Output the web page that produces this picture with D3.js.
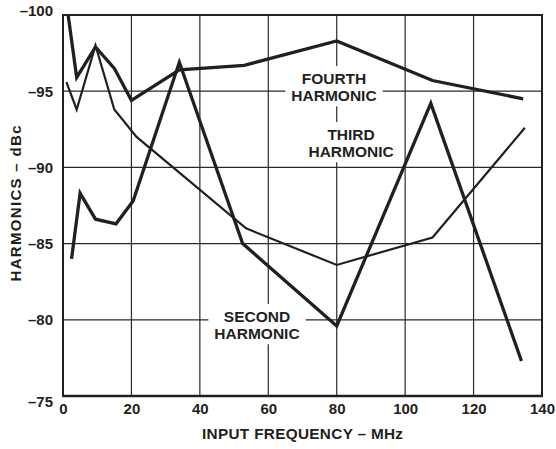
<!DOCTYPE html>
<html>
<head>
<meta charset="utf-8">
<script src="https://cdn.jsdelivr.net/npm/d3@7"></script>
<style>
  html, body { margin: 0; padding: 0; background: #fff; }
  svg { display: block; font-family: "Liberation Sans", Arial, sans-serif; font-weight: bold; }
</style>
</head>
<body>
<svg id="chart" width="556" height="449"></svg>
<script>
// ---- data ----
const xTicks = [0, 20, 40, 60, 80, 100, 120, 140];
const yTicks = [-100, -95, -90, -85, -80, -75];

const secondFreq = [2.5, 5, 9.5, 15.5, 20.5, 34, 52.5, 80, 107.5, 134];
const secondVals = [-84.0, -88.3, -86.6, -86.3, -87.8, -96.9, -85.0, -79.6, -94.2, -77.3];

const thirdFreq = [1, 4, 9.5, 15, 21.5, 53.5, 80, 108, 135];
const thirdVals = [-95.6, -93.8, -98.0, -93.8, -92.0, -86.0, -83.6, -85.4, -92.6];

const fourthFreq = [1.5, 4, 9.5, 15, 20, 34, 53, 80, 108, 134.5];
const fourthVals = [-100, -95.9, -97.9, -96.5, -94.4, -96.4, -96.7, -98.3, -95.7, -94.5];

const labelText = [["FOURTH", "HARMONIC"], ["THIRD", "HARMONIC"], ["SECOND", "HARMONIC"]];
const labelFreq = [79.2, 84.2, 56.7];
const labelVal = [-95.47, -91.8, -79.86];

// ---- layout ----
const svg = d3.select("#chart");
const L = 63, T = 15, W = 479, H = 381;
const ink = "#231f20";

const x = d3.scaleLinear().domain([0, 140]).range([L, L + W]);
const y = d3.scaleLinear().domain([-100, -75]).range([T, T + H]);

// grid
const g = svg.append("g");
g.selectAll("line.v").data(xTicks.slice(1, -1)).join("line")
  .attr("x1", d => x(d)).attr("x2", d => x(d))
  .attr("y1", T).attr("y2", T + H)
  .attr("stroke", "#2a2a2a").attr("stroke-width", 1.2);
g.selectAll("line.h").data(yTicks.slice(1, -1)).join("line")
  .attr("y1", d => y(d)).attr("y2", d => y(d))
  .attr("x1", L).attr("x2", L + W)
  .attr("stroke", "#2a2a2a").attr("stroke-width", 1.2);

// label boxes (white, break the grid)
const labelFont = 15.5;
const lg = svg.append("g");
labelText.forEach((lines, k) => {
  const cx = x(labelFreq[k]), cy = y(labelVal[k]);
  const tg = lg.append("g");
  const txt = tg.append("text")
    .attr("text-anchor", "middle")
    .attr("font-size", labelFont)
    .attr("fill", ink);
  lines.forEach((s, i) => {
    txt.append("tspan").attr("x", cx).attr("y", cy + i * 17.3).text(s);
  });
  const bb = txt.node().getBBox();
  tg.insert("rect", "text")
    .attr("x", bb.x - 6).attr("y", bb.y - 4)
    .attr("width", bb.width + 12).attr("height", bb.height + 6)
    .attr("fill", "#fff");
});

// axes frame
svg.append("rect")
  .attr("x", L).attr("y", T).attr("width", W).attr("height", H)
  .attr("fill", "none").attr("stroke", ink).attr("stroke-width", 2);
svg.append("line")
  .attr("x1", L - 1).attr("x2", L + W + 1).attr("y1", T + H).attr("y2", T + H)
  .attr("stroke", ink).attr("stroke-width", 2.6);

// tick labels via axes (no tick marks)
const fmt = d => (d < 0 ? "\u2013" + Math.abs(d) : String(d));
const yAxis = svg.append("g").attr("transform", `translate(${L},0)`)
  .call(d3.axisLeft(y).tickValues(yTicks).tickFormat(fmt).tickSize(0).tickPadding(10));
yAxis.select(".domain").remove();
yAxis.selectAll("text").attr("font-size", 15).attr("font-family", "Liberation Sans, Arial, sans-serif")
  .attr("font-weight", "bold").attr("fill", ink)
  .attr("dy", d => d === -100 ? "0.05em" : d === -75 ? "0.72em" : "0.34em");

const xAxis = svg.append("g").attr("transform", `translate(0,${T + H})`)
  .call(d3.axisBottom(x).tickValues(xTicks).tickFormat(fmt).tickSize(0).tickPadding(7));
xAxis.select(".domain").remove();
xAxis.selectAll("text").attr("font-size", 15).attr("font-family", "Liberation Sans, Arial, sans-serif")
  .attr("font-weight", "bold").attr("fill", ink);

// axis titles
svg.append("text")
  .attr("x", 302.5).attr("y", 439)
  .attr("text-anchor", "middle").attr("font-size", 15.3).attr("fill", ink)
  .attr("textLength", 201).attr("lengthAdjust", "spacing")
  .text("INPUT FREQUENCY \u2013 MHz");
svg.append("text")
  .attr("transform", "translate(20.5,203.5) rotate(-90)")
  .attr("text-anchor", "middle").attr("font-size", 15).attr("fill", ink)
  .attr("textLength", 156).attr("lengthAdjust", "spacing")
  .text("HARMONICS \u2013 dBc");

// series
const line = d3.line().x(d => x(d[0])).y(d => y(d[1]));
const series = [
  { f: thirdFreq, v: thirdVals, w: 2.2 },
  { f: fourthFreq, v: fourthVals, w: 3.3 },
  { f: secondFreq, v: secondVals, w: 3.3 }
];
svg.append("defs").append("clipPath").attr("id", "clip")
  .append("rect").attr("x", L).attr("y", T).attr("width", W).attr("height", H);
series.forEach(s => {
  svg.append("path")
    .datum(s.f.map((f, i) => [f, s.v[i]]))
    .attr("d", line)
    .attr("clip-path", "url(#clip)")
    .attr("fill", "none").attr("stroke", ink)
    .attr("stroke-width", s.w).attr("stroke-linejoin", "miter");
});
</script>
</body>
</html>
